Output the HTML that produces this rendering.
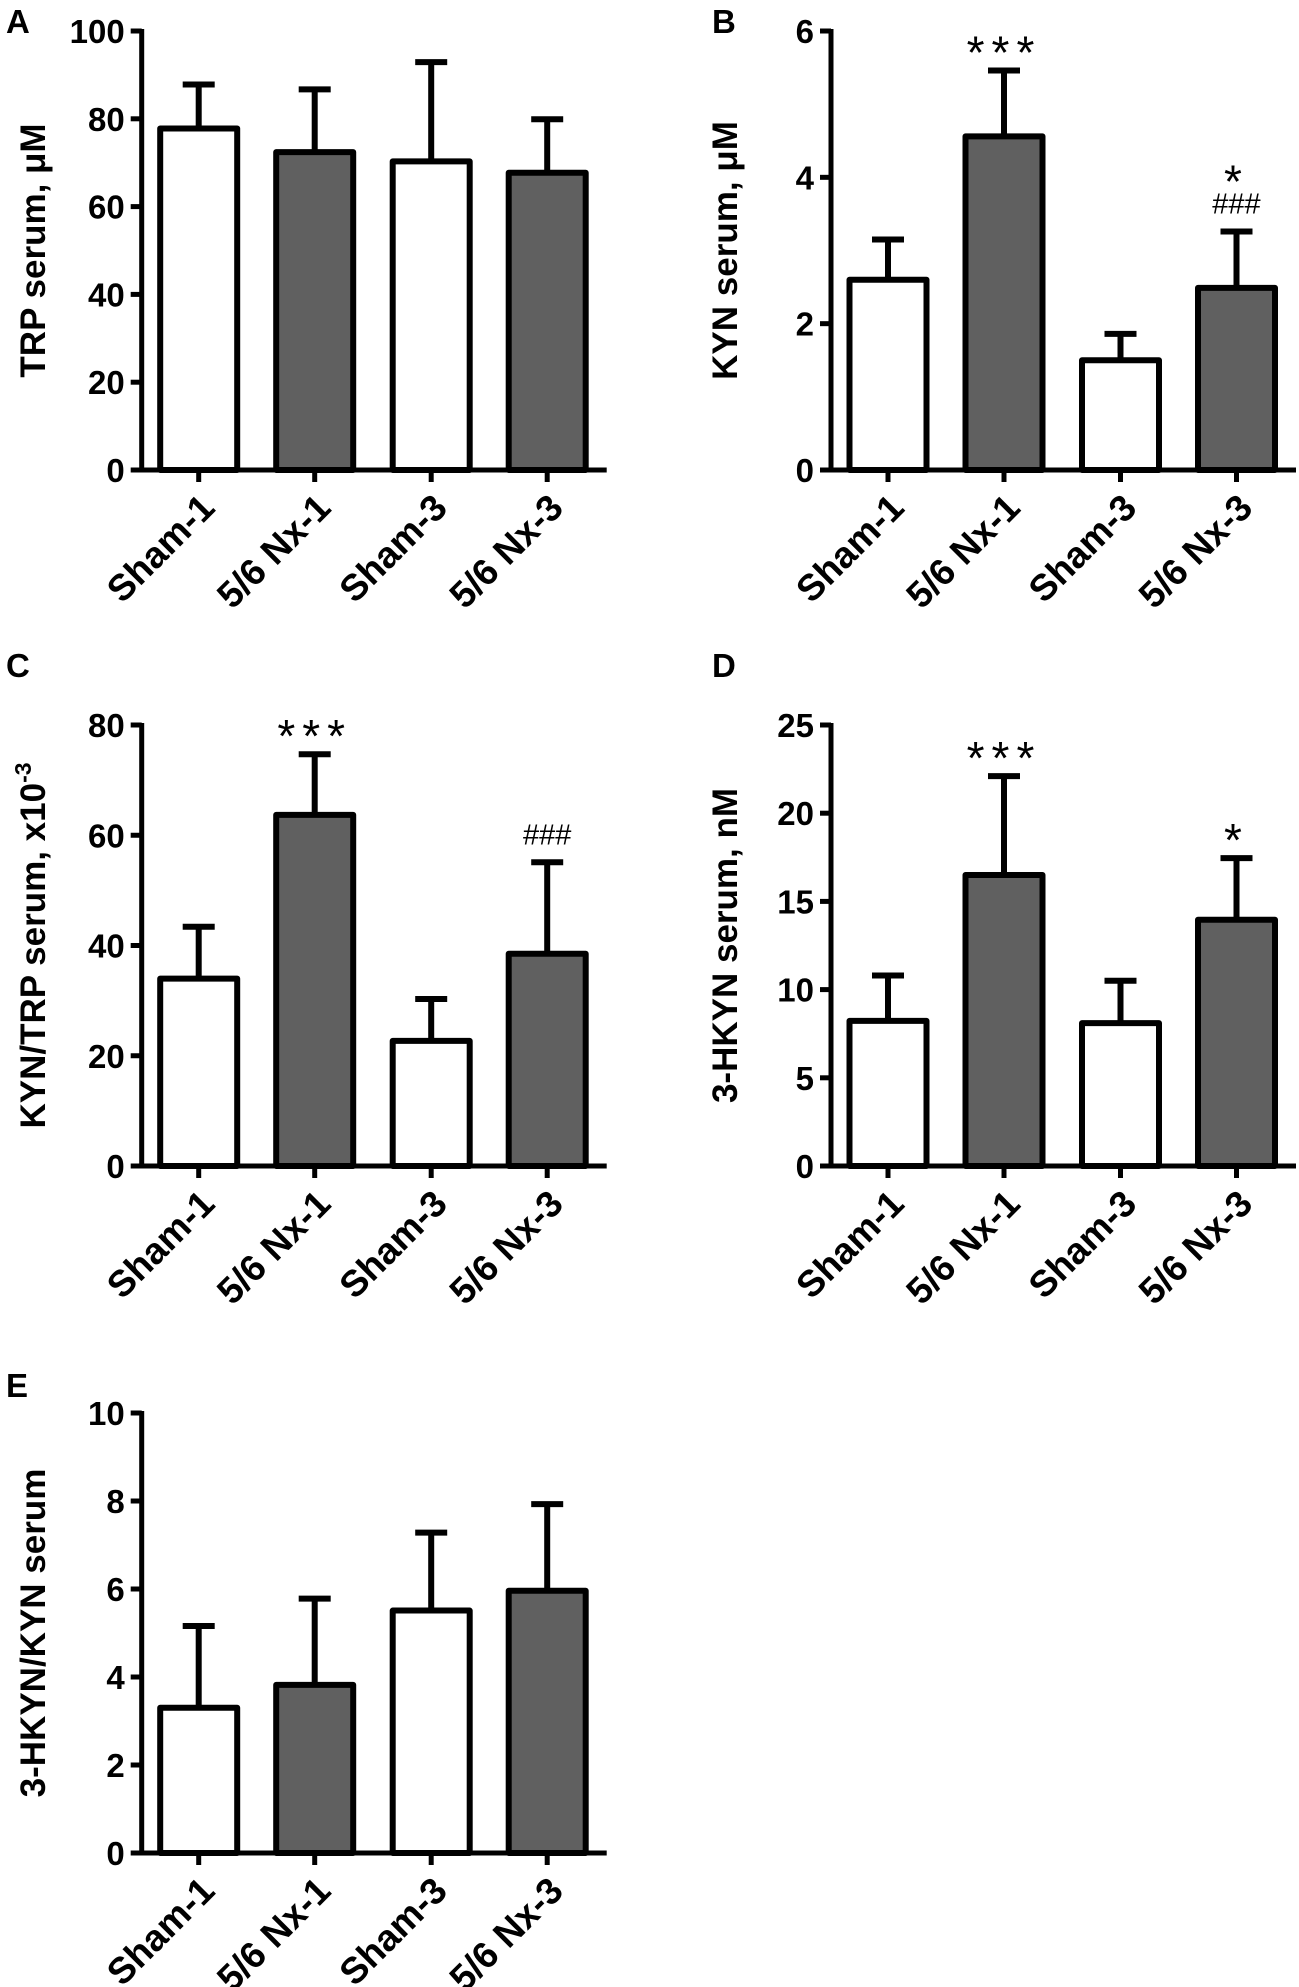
<!DOCTYPE html>
<html><head><meta charset="utf-8"><style>
html,body{margin:0;padding:0;background:#fff;}
svg{display:block;}
text{font-family:"Liberation Sans",Arial,sans-serif;}
</style></head><body>
<svg id="fig" width="1299" height="1987" viewBox="0 0 1299 1987" xmlns="http://www.w3.org/2000/svg"></svg>
<script>
const categories = ["Sham-1", "5/6 Nx-1", "Sham-3", "5/6 Nx-3"];
const barFills = ["#ffffff", "#606060", "#ffffff", "#606060"];

const trpMeans = [77.8, 72.4, 70.3, 67.7];
const trpUpper = [87.8, 86.7, 92.9, 79.9];
const trpTicks = [0, 20, 40, 60, 80, 100];

const kynMeans = [2.60, 4.56, 1.50, 2.49];
const kynUpper = [3.15, 5.46, 1.86, 3.26];
const kynTicks = [0, 2, 4, 6];

const ratioMeans = [34.0, 63.7, 22.7, 38.5];
const ratioUpper = [43.4, 74.7, 30.3, 55.1];
const ratioTicks = [0, 20, 40, 60, 80];

const hkynMeans = [8.23, 16.5, 8.1, 13.96];
const hkynUpper = [10.8, 22.1, 10.5, 17.45];
const hkynTicks = [0, 5, 10, 15, 20, 25];

const hkRatioMeans = [3.30, 3.82, 5.51, 5.96];
const hkRatioUpper = [5.16, 5.78, 7.28, 7.93];
const hkRatioTicks = [0, 2, 4, 6, 8, 10];

const kynMarks = ["", "***", "", "*|###"];
const ratioMarks = ["", "***", "", "###"];
const hkynMarks = ["", "***", "", "*"];
const noMarks = ["", "", "", ""];

const NS = "http://www.w3.org/2000/svg";
const svg = document.getElementById("fig");
function mk(tag, attrs, parent) {
  const el = document.createElementNS(NS, tag);
  for (const k in attrs) el.setAttribute(k, attrs[k]);
  (parent || svg).appendChild(el);
  return el;
}

const panels = [
  {id:"a", letter:"A", ax:141.7, y0:470, yTop:31, means:trpMeans, upper:trpUpper, ticks:trpTicks, marks:noMarks, title:"TRP serum, μM", tx:33, lx:6, ly:33},
  {id:"b", letter:"B", ax:831, y0:470, yTop:31, means:kynMeans, upper:kynUpper, ticks:kynTicks, marks:kynMarks, title:"KYN serum, μM", tx:725, lx:712, ly:33},
  {id:"c", letter:"C", ax:141.7, y0:1166, yTop:725, means:ratioMeans, upper:ratioUpper, ticks:ratioTicks, marks:ratioMarks, title:"KYN/TRP serum, x10", sup:"-3", tx:33, lx:6, ly:677},
  {id:"d", letter:"D", ax:831, y0:1166, yTop:725, means:hkynMeans, upper:hkynUpper, ticks:hkynTicks, marks:hkynMarks, title:"3-HKYN serum, nM", tx:725, lx:712, ly:677},
  {id:"e", letter:"E", ax:141.7, y0:1853, yTop:1413, means:hkRatioMeans, upper:hkRatioUpper, ticks:hkRatioTicks, marks:noMarks, title:"3-HKYN/KYN serum", tx:33, lx:6, ly:1397}
];
const catOffsets = [57, 173, 289.5, 405.5];

panels.forEach(p => {
  const g = mk("g", {});
  
  
  const maxV = p.ticks[p.ticks.length - 1];
  const yS = v => p.y0 - (v / maxV) * (p.y0 - p.yTop);
  const xS = i => p.ax + catOffsets[i];

  const letter = mk("text", {x:p.lx, y:p.ly, "font-size":33, "font-weight":"bold"}, g);
  letter.textContent = p.letter;
  
  

  p.means.forEach((v, i) => {
    const cx = xS(i);
    const top = yS(v);
    const up = yS(p.upper[i]);
    const eb = mk("line", {x1:cx, x2:cx, y1:top, y2:up, stroke:"#000", "stroke-width":6}, g);
    
    
    const cap = mk("line", {x1:cx-16, x2:cx+16, y1:up, y2:up, stroke:"#000", "stroke-width":6}, g);
    
    
    const r = mk("rect", {x:cx-38.5, y:top, width:77, height:p.y0-top, fill:barFills[i], stroke:"#000", "stroke-width":6, "stroke-linejoin":"round"}, g);
    
    
    const t = mk("line", {x1:cx, x2:cx, y1:p.y0, y2:p.y0+12, stroke:"#000", "stroke-width":5}, g);
    
    
    const lb = mk("text", {x:0, y:0, "font-size":37, "font-weight":"bold", "text-anchor":"end",
      transform:"translate(" + (cx+18) + "," + (p.y0+40) + ") rotate(-45)"}, g);
    lb.textContent = categories[i];
    
    
    const m = p.marks[i];
    if (m) {
      const parts = m.split("|");
      let yy = up - 18;
      for (let k = parts.length - 1; k >= 0; k--) {
        const s = parts[k];
        const isStar = s[0] === "*";
        const tt = mk("text", {x:cx, y: isStar ? yy + 16 : yy, "font-size": isStar ? 46 : 29,
          "font-family":"'Liberation Serif', serif", "text-anchor":"middle", "letter-spacing": isStar ? 7 : 0}, g);
        tt.textContent = s;
        
        
        yy -= isStar ? 30 : 32;
      }
    }
  });

  const ya = mk("line", {x1:p.ax, x2:p.ax, y1:p.yTop-2, y2:p.y0+2.5, stroke:"#000", "stroke-width":5}, g);
  
  
  const xa = mk("line", {x1:p.ax-2.5, x2:p.ax+465, y1:p.y0, y2:p.y0, stroke:"#000", "stroke-width":5}, g);
  
  

  p.ticks.forEach(tv => {
    const y = yS(tv);
    const tk = mk("line", {x1:p.ax-11, x2:p.ax, y1:y, y2:y, stroke:"#000", "stroke-width":5}, g);
    
    
    const tl = mk("text", {x:p.ax-17, y:y+12, "font-size":33, "font-weight":"bold", "text-anchor":"end"}, g);
    tl.textContent = tv;
    
    
  });

  const cy = (p.y0 + p.yTop) / 2;
  const ttl = mk("text", {x:0, y:0, "font-size":35, "font-weight":"bold", "text-anchor":"middle",
    transform:"translate(" + (p.tx+12) + "," + cy + ") rotate(-90)"}, g);
  ttl.textContent = p.title;
  if (p.sup) {
    const ts = mk("tspan", {"font-size":23, dy:-14}, ttl);
    ts.textContent = p.sup;
  }
  
  
});
</script>
</body></html>
